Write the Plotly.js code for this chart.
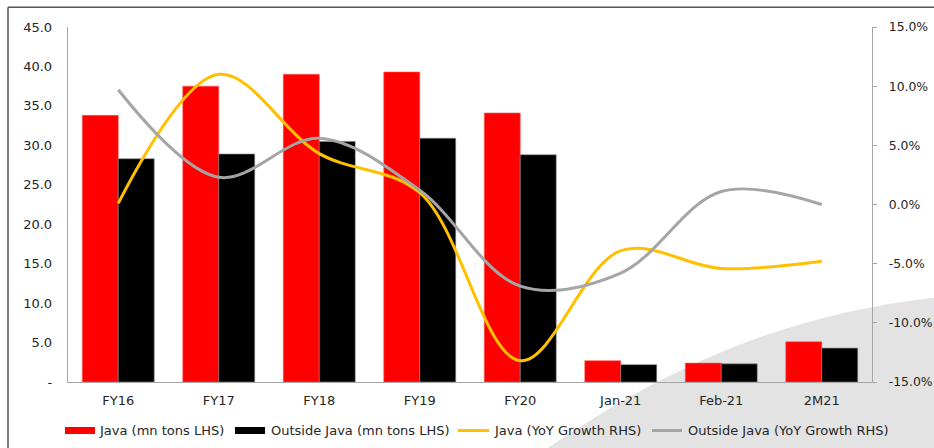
<!DOCTYPE html>
<html>
<head>
<meta charset="utf-8">
<script src="https://cdn.plot.ly/plotly-3.0.1.min.js"></script>
<style>html,body{margin:0;padding:0;background:#fff;}#chart{width:934px;height:448px;}</style>
</head>
<body>
<div id="chart"></div>
<script>
// ---- data ----
const categories = ["FY16", "FY17", "FY18", "FY19", "FY20", "Jan-21", "Feb-21", "2M21"];
const javaVolume = [33.8, 37.5, 39.0, 39.3, 34.1, 2.7, 2.4, 5.1];
const outsideJavaVolume = [28.3, 28.9, 30.5, 30.9, 28.8, 2.2, 2.3, 4.3];
const javaGrowth = [0.1, 11.0, 4.3, 1.0, -13.2, -3.9, -5.4, -4.8];
const outsideJavaGrowth = [9.7, 2.3, 5.6, 1.2, -6.9, -5.8, 1.1, 0.0];
const leftTickVals = [0, 5, 10, 15, 20, 25, 30, 35, 40, 45];
const leftTickText = ["-", "5.0", "10.0", "15.0", "20.0", "25.0", "30.0", "35.0", "40.0", "45.0"];
const rightTickVals = [-15, -10, -5, 0, 5, 10, 15];
const rightTickText = ["-15.0%", "-10.0%", "-5.0%", "0.0%", "5.0%", "10.0%", "15.0%"];
const seriesNames = ["Java (mn tons LHS)", "Outside Java (mn tons LHS)", "Java (YoY Growth RHS)", "Outside Java (YoY Growth RHS)"];

// ---- geometry helpers (pixel -> paper) ----
const W = 934, H = 448;
const M = {l: 68, r: 62, t: 27, b: 66};
const PW = W - M.l - M.r, PH = H - M.t - M.b;
const px = x => (x - M.l) / PW;
const py = y => (H - M.b - y) / PH;

const txt = '#262626';
const font = {family: 'DejaVu Sans, Verdana, sans-serif', size: 13, color: txt};
const rfont = {family: 'DejaVu Sans, Verdana, sans-serif', size: 12.4, color: txt};

const traces = [
  {type: 'bar', x: categories, y: javaVolume, name: seriesNames[0], yaxis: 'y',
   marker: {color: '#ff0000', line: {color: '#ff5a5a', width: 0.6}}, hoverinfo: 'skip'},
  {type: 'bar', x: categories, y: outsideJavaVolume, name: seriesNames[1], yaxis: 'y',
   marker: {color: '#000000', line: {color: '#8c8c8c', width: 0.6}}, hoverinfo: 'skip'},
  {type: 'scatter', mode: 'lines', x: categories, y: javaGrowth, name: seriesNames[2], yaxis: 'y2',
   line: {color: '#ffc000', width: 3, shape: 'spline', smoothing: 1}, hoverinfo: 'skip'},
  {type: 'scatter', mode: 'lines', x: categories, y: outsideJavaGrowth, name: seriesNames[3], yaxis: 'y2',
   line: {color: '#a5a5a5', width: 3, shape: 'spline', smoothing: 1}, hoverinfo: 'skip'}
];

// background swoosh
const swoosh = 'M ' + px(542) + ',' + py(452) +
  ' C ' + px(650) + ',' + py(378) + ' ' + px(770) + ',' + py(315) + ' ' + px(940) + ',' + py(297) +
  ' L ' + px(940) + ',' + py(452) + ' Z';

const shapes = [
  {type: 'path', xref: 'paper', yref: 'paper', path: swoosh, fillcolor: '#e3e3e3', line: {width: 0}, layer: 'below'},
  // frame lines
  {type: 'line', xref: 'paper', yref: 'paper', x0: px(8), x1: px(940), y0: py(7.3), y1: py(7.3), line: {color: '#555555', width: 1.5}},
  {type: 'line', xref: 'paper', yref: 'paper', x0: px(8), x1: px(8), y0: py(7.3), y1: py(452), line: {color: '#555555', width: 1.5}},
  // legend swatches
  {type: 'rect', xref: 'paper', yref: 'paper', x0: px(65), x1: px(95), y0: py(427), y1: py(434), fillcolor: '#ff0000', line: {width: 0}},
  {type: 'rect', xref: 'paper', yref: 'paper', x0: px(235), x1: px(265), y0: py(427), y1: py(434), fillcolor: '#000000', line: {width: 0}},
  {type: 'line', xref: 'paper', yref: 'paper', x0: px(458), x1: px(489), y0: py(430.5), y1: py(430.5), line: {color: '#ffc000', width: 3}},
  {type: 'line', xref: 'paper', yref: 'paper', x0: px(652), x1: px(682), y0: py(430.5), y1: py(430.5), line: {color: '#a5a5a5', width: 3}}
];

const legendX = [97, 269, 492, 686];
const annotations = seriesNames.map((n, i) => ({
  xref: 'paper', yref: 'paper', x: px(legendX[i]), y: py(430.5), xanchor: 'left', yanchor: 'middle',
  text: n, showarrow: false, font: font
}));

const layout = {
  width: W, height: H,
  margin: M,
  paper_bgcolor: '#ffffff',
  plot_bgcolor: 'rgba(0,0,0,0)',
  showlegend: false,
  barmode: 'group', bargap: 0.284, bargroupgap: 0,
  font: font,
  xaxis: {showline: true, linecolor: '#a6a6a6', linewidth: 1.3, ticks: '', showgrid: false, zeroline: false,
          tickfont: font, ticklabelstandoff: 6, fixedrange: true},
  yaxis: {range: [0, 45], tickvals: leftTickVals, ticktext: leftTickText, showline: true, linecolor: '#a6a6a6', linewidth: 1.3,
          ticks: '', showgrid: false, zeroline: false, tickfont: font, ticklabelstandoff: 12, fixedrange: true},
  yaxis2: {range: [-15, 15], tickvals: rightTickVals, ticktext: rightTickText, overlaying: 'y', side: 'right',
           showline: true, linecolor: '#a6a6a6', linewidth: 1.3, ticks: 'outside', ticklen: 4, tickcolor: '#a6a6a6',
           showgrid: false, zeroline: false, tickfont: rfont, ticklabelstandoff: 9, fixedrange: true},
  shapes: shapes,
  annotations: annotations
};

Plotly.newPlot('chart', traces, layout, {staticPlot: true, displayModeBar: false});
</script>
</body>
</html>
